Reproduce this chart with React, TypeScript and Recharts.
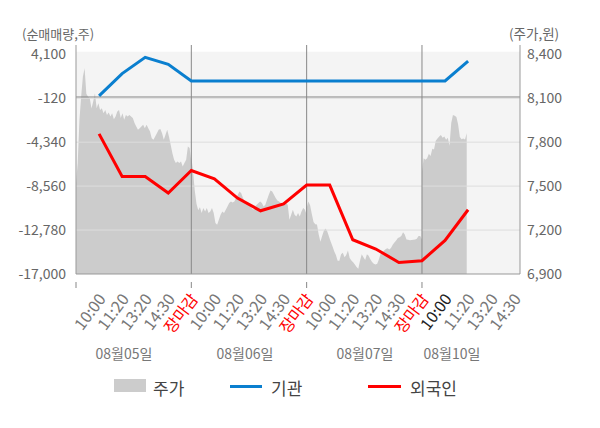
import { ComposedChart, Area, Line, XAxis, YAxis, ReferenceLine, ReferenceArea } from 'recharts';

// 날짜 / x축 라벨
const dayLabels = ['08월05일', '08월06일', '08월07일', '08월10일'];
const xTickLabels = [
  '',
  '10:00', '11:20', '13:20', '14:30', '장마감',
  '10:00', '11:20', '13:20', '14:30', '장마감',
  '10:00', '11:20', '13:20', '14:30', '장마감',
  '10:00', '11:20', '13:20', '14:30',
];
const xTicks = xTickLabels.map((_, i) => i);

// 순매매량 (주) - 10:00 / 11:20 / 13:20 / 14:30 / 장마감 시점
const flowSlots = [1, 2, 3, 4, 5, 6, 7, 8, 9, 10, 11, 12, 13, 14, 15, 16, 17];
const institution = [100, 2250, 3810, 3140, 1540, 1540, 1540, 1540, 1540, 1540, 1540, 1540, 1540, 1540, 1540, 1540, 3450];
const foreigner = [-3540, -7640, -7640, -9230, -7060, -7860, -9710, -10930, -10260, -8460, -8460, -13710, -14600, -15890, -15720, -13780, -10830];

const leftTicks = [-17000, -12780, -8560, -4340, -120, 4100];
const rightTicks = [6900, 7200, 7500, 7800, 8100, 8400];

// 주가 (원) - 장중 흐름
const day1Price = [
  7520, 7658, 7952, 8111, 8247, 8305, 8130, 8110, 8100, 8030, 8077, 8134, 8031, 8066, 8020, 8031, 7998,
  8020, 7986, 8002, 7975, 7998, 7957, 7975, 8009, 8020, 7964, 7998, 7952, 7986, 7975, 7986, 7975, 7964,
  7930, 7907, 7884, 7895, 7907, 7918, 7895, 7918, 7895, 7872, 7827, 7816, 7838, 7861, 7884, 7889, 7861,
  7816, 7850, 7884, 7838, 7782, 7725, 7679, 7657, 7668, 7657, 7668, 7634, 7657, 7679, 7770, 7760, 7668,
];
const day2Price = [
  7700, 7600, 7470, 7380, 7335, 7355, 7316, 7350, 7327, 7350, 7316, 7327, 7350, 7316, 7248, 7236, 7270,
  7304, 7327, 7316, 7338, 7361, 7384, 7395, 7388, 7395, 7418, 7441, 7463, 7452, 7418, 7395, 7384, 7373,
  7361, 7350, 7338, 7361, 7373, 7384, 7395, 7384, 7361, 7373, 7407, 7441, 7470, 7463, 7441, 7418, 7402,
  7395, 7384, 7373, 7379, 7384, 7373, 7270, 7304, 7338, 7304, 7293, 7316, 7293, 7327, 7350, 7338, 7304,
];
const day3Price = [
  7350, 7395, 7370, 7310, 7255, 7240, 7238, 7170, 7120, 7160, 7195, 7210, 7190, 7155, 7120, 7090, 7055,
  7030, 6990, 6990, 7035, 7045, 7015, 7030, 7060, 7010, 6992, 6980, 6965, 6948, 6936, 6990, 7035, 7015,
  6995, 7035, 7025, 7000, 6982, 6970, 6964, 6970, 7000, 7040, 7045, 7060, 7070, 7075, 7068, 7078, 7100,
  7115, 7128, 7145, 7150, 7160, 7185, 7170, 7136, 7134, 7131, 7132, 7134, 7136, 7140, 7160, 7160, 7135,
];
const day4Price = [
  7600, 7690, 7680, 7690, 7720, 7705, 7755, 7750, 7810, 7825, 7838, 7848, 7830, 7838,
  7816, 7830, 7775, 7930, 7985, 7980, 7972, 7920, 7835, 7820, 7825, 7818, 7860,
];

const SESSION = 5;
const STEP = SESSION / (day1Price.length - 1);

const priceData = [day1Price, day2Price, day3Price, day4Price].flatMap((day, d) =>
  day.map((price, i) => ({ x: d * SESSION + i * STEP, price }))
);

const flowData = flowSlots.map((x, i) => ({ x, inst: institution[i], foreign: foreigner[i] }));

const fontFamily = '"Noto Sans CJK KR", "Noto Sans", sans-serif';
const fmt = (v: number) => v.toLocaleString('en-US');

const XTick = ({ x, y, payload }: any) => {
  const v = payload.value as number;
  const label = xTickLabels[v];
  const isClose = label === '장마감';
  const color = isClose ? '#ff0000' : v === 16 ? '#222' : '#777';
  return (
    <g>
      {v % SESSION === 0 && <line x1={x} x2={x} y1={y} y2={y + 6} stroke="#888" />}
      <text
        transform={`translate(${x + 2},${y + 13}) rotate(-53)`}
        textAnchor="end"
        dominantBaseline="central"
        fill={color}
        fontSize={16}
        fontFamily={fontFamily}
      >
        {label}
      </text>
    </g>
  );
};

const dayLabelX = [124, 245, 365, 452];

export default function App() {
  return (
    <div style={{ position: 'absolute', left: 0, top: 0, width: 600, height: 428, background: '#fff', fontFamily }}>
      <div style={{ position: 'absolute', left: 22, top: 24, fontSize: 13, color: '#666' }}>(순매매량,주)</div>
      <div style={{ position: 'absolute', left: 509, top: 23, fontSize: 13.5, color: '#666' }}>(주가,원)</div>
      <ComposedChart width={600} height={428} margin={{ top: 45, right: 0, bottom: 74, left: 0 }}>
        <XAxis
          type="number"
          dataKey="x"
          domain={[0, 19.25]}
          ticks={xTicks}
          interval={0}
          allowDataOverflow
          axisLine={{ stroke: '#999' }}
          tickLine={false}
          tick={<XTick />}
          height={80}
        />
        <YAxis
          yAxisId="left"
          orientation="left"
          width={76}
          domain={[-17000, 4992]}
          ticks={leftTicks}
          allowDataOverflow
          tickFormatter={fmt}
          axisLine={{ stroke: '#999' }}
          tickLine={false}
          tickSize={0}
          tickMargin={10}
          tick={{ fill: '#666', fontSize: 14, fontFamily }}
        />
        <YAxis
          yAxisId="right"
          orientation="right"
          width={80}
          domain={[6900, 8463]}
          ticks={rightTicks}
          allowDataOverflow
          tickFormatter={fmt}
          axisLine={{ stroke: '#999' }}
          tickLine={false}
          tickSize={0}
          tickMargin={7}
          tick={{ fill: '#666', fontSize: 14, fontFamily, textAnchor: 'start' }}
        />
        <ReferenceArea yAxisId="left" y1={-17000} y2={4350} fill="#f4f4f4" fillOpacity={1} stroke="none" />
        <Area
          yAxisId="right"
          data={priceData}
          dataKey="price"
          type="linear"
          fill="#cccccc"
          fillOpacity={1}
          stroke="none"
          isAnimationActive={false}
        />
        {leftTicks.slice(1, 5).map((t) => (
          <ReferenceLine key={t} yAxisId="left" y={t} stroke="#dddddd" />
        ))}
        <ReferenceLine yAxisId="left" y={0} stroke="#888" />
        {[5, 10, 15].map((t) => (
          <ReferenceLine key={t} yAxisId="left" x={t} stroke="#888" />
        ))}
        <Line
          yAxisId="left"
          data={flowData}
          dataKey="inst"
          stroke="#0a7fcf"
          strokeWidth={3}
          dot={false}
          isAnimationActive={false}
        />
        <Line
          yAxisId="left"
          data={flowData}
          dataKey="foreign"
          stroke="#ff0000"
          strokeWidth={3}
          dot={false}
          isAnimationActive={false}
        />
      </ComposedChart>
      {dayLabels.map((d, i) => (
        <div
          key={d}
          style={{
            position: 'absolute',
            left: dayLabelX[i] - 40,
            width: 80,
            top: 343,
            textAlign: 'center',
            fontSize: 14,
            color: '#777',
          }}
        >
          {d}
        </div>
      ))}
      <div style={{ position: 'absolute', left: 114, top: 379, width: 32, height: 13, background: '#cccccc' }} />
      <div style={{ position: 'absolute', left: 153, top: 375, fontSize: 17, color: '#444' }}>주가</div>
      <div style={{ position: 'absolute', left: 230, top: 385, width: 32, height: 3, background: '#0a7fcf' }} />
      <div style={{ position: 'absolute', left: 271, top: 375, fontSize: 17, color: '#444' }}>기관</div>
      <div style={{ position: 'absolute', left: 368, top: 385, width: 33, height: 3, background: '#ff0000' }} />
      <div style={{ position: 'absolute', left: 410, top: 375, fontSize: 17, color: '#444' }}>외국인</div>
    </div>
  );
}
